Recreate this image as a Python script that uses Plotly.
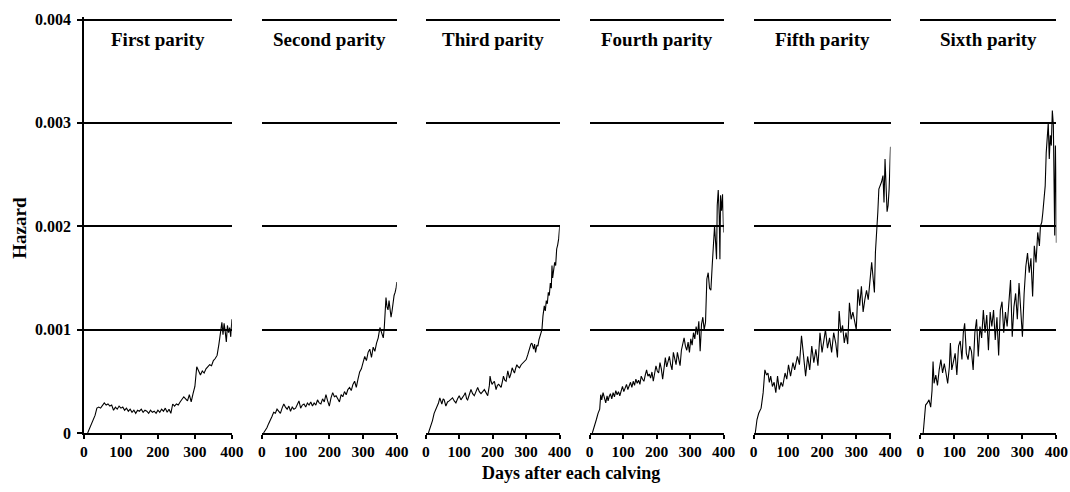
import numpy as np
import plotly.graph_objects as go

# ---------------- data (hazard in units of 0.001) ----------------
panel_titles = ["First parity", "Second parity", "Third parity",
                "Fourth parity", "Fifth parity", "Sixth parity"]
x_tick_vals = [0, 100, 200, 300, 400]
y_tick_vals = [0, 0.001, 0.002, 0.003, 0.004]
y_tick_text = ["0", "0.001", "0.002", "0.003", "0.004"]

days_1 = [
    10, 15, 20, 25, 30, 35, 40, 45, 50, 55,
    60, 65, 70, 75, 80, 85, 90, 95, 100, 105,
    110, 115, 120, 125, 130, 135, 140, 145, 150, 155,
    160, 165, 170, 175, 180, 185, 190, 195, 200, 205,
    210, 215, 220, 225, 230, 235, 240, 245, 250, 255,
    260, 265, 270, 275, 280, 285, 290, 295, 300, 305,
    310, 315, 320, 325, 330, 335, 340, 345, 350, 355,
    360, 365, 370, 373, 376, 379, 382, 385, 388, 391,
    394, 397, 400]
haz_1 = [
    0.00, 0.04, 0.09, 0.13, 0.17, 0.24, 0.25, 0.24, 0.27, 0.29,
    0.27, 0.28, 0.26, 0.27, 0.22, 0.25, 0.23, 0.26, 0.24, 0.25,
    0.22, 0.24, 0.21, 0.23, 0.20, 0.22, 0.19, 0.22, 0.21, 0.23,
    0.20, 0.22, 0.21, 0.19, 0.22, 0.20, 0.21, 0.19, 0.22, 0.20,
    0.23, 0.21, 0.24, 0.20, 0.23, 0.19, 0.28, 0.26, 0.28, 0.27,
    0.30, 0.32, 0.35, 0.33, 0.31, 0.37, 0.30, 0.38, 0.45, 0.64,
    0.60, 0.56, 0.60, 0.58, 0.62, 0.64, 0.66, 0.65, 0.70, 0.72,
    0.75, 0.86, 1.00, 1.07, 0.95, 1.06, 0.98, 0.88, 1.04, 0.97,
    1.02, 0.93, 1.10]

days_2 = [
    5, 10, 15, 20, 25, 30, 35, 40, 45, 50,
    55, 60, 65, 70, 75, 80, 85, 90, 95, 100,
    105, 110, 115, 120, 125, 130, 135, 140, 145, 150,
    155, 160, 165, 170, 175, 180, 185, 190, 195, 200,
    205, 210, 215, 220, 225, 230, 235, 240, 245, 250,
    255, 260, 265, 270, 275, 280, 285, 290, 295, 300,
    305, 310, 315, 320, 325, 330, 335, 340, 345, 350,
    355, 360, 363, 366, 368, 371, 374, 377, 380, 383,
    386, 389, 392, 395, 398, 400]
haz_2 = [
    0.00, 0.02, 0.05, 0.09, 0.12, 0.16, 0.20, 0.19, 0.23, 0.21,
    0.19, 0.24, 0.28, 0.25, 0.23, 0.26, 0.21, 0.25, 0.23, 0.24,
    0.27, 0.31, 0.24, 0.27, 0.28, 0.25, 0.29, 0.27, 0.30, 0.26,
    0.29, 0.27, 0.32, 0.29, 0.28, 0.33, 0.30, 0.37, 0.31, 0.26,
    0.34, 0.39, 0.35, 0.36, 0.33, 0.30, 0.37, 0.35, 0.40, 0.37,
    0.42, 0.44, 0.41, 0.47, 0.50, 0.44, 0.52, 0.59, 0.62, 0.68,
    0.74, 0.70, 0.78, 0.81, 0.73, 0.83, 0.79, 0.87, 0.92, 1.02,
    0.97, 0.92, 1.02, 1.20, 1.31, 1.22, 1.19, 1.28, 1.22, 1.12,
    1.18, 1.29, 1.33, 1.36, 1.40, 1.46]

days_3 = [
    8, 12, 16, 20, 25, 30, 35, 38, 42, 45,
    48, 52, 55, 60, 65, 70, 75, 80, 85, 90,
    95, 100, 105, 110, 115, 118, 122, 125, 130, 135,
    140, 145, 150, 155, 160, 165, 170, 175, 180, 185,
    190, 192, 195, 198, 202, 205, 210, 214, 218, 222,
    225, 229, 232, 236, 240, 245, 250, 254, 258, 262,
    265, 268, 272, 276, 280, 285, 290, 295, 300, 305,
    310, 314, 317, 320, 322, 325, 328, 332, 335, 338,
    340, 344, 347, 350, 354, 357, 360, 363, 366, 369,
    372, 375, 377, 379, 382, 385, 388, 391, 394, 397,
    400]
haz_3 = [
    0.00, 0.04, 0.07, 0.12, 0.19, 0.23, 0.26, 0.29, 0.34, 0.30,
    0.28, 0.33, 0.32, 0.26, 0.30, 0.31, 0.33, 0.34, 0.31, 0.29,
    0.33, 0.36, 0.32, 0.34, 0.37, 0.39, 0.33, 0.32, 0.38, 0.42,
    0.38, 0.36, 0.40, 0.44, 0.40, 0.38, 0.40, 0.42, 0.39, 0.36,
    0.46, 0.55, 0.50, 0.47, 0.49, 0.50, 0.42, 0.46, 0.47, 0.45,
    0.44, 0.50, 0.55, 0.51, 0.50, 0.60, 0.53, 0.57, 0.63, 0.60,
    0.58, 0.62, 0.66, 0.64, 0.63, 0.66, 0.68, 0.70, 0.71, 0.76,
    0.83, 0.86, 0.87, 0.84, 0.81, 0.86, 0.78, 0.85, 0.84, 0.90,
    0.92, 0.98, 1.00, 1.13, 1.23, 1.18, 1.28, 1.25, 1.36, 1.33,
    1.45, 1.40, 1.62, 1.50, 1.58, 1.65, 1.62, 1.78, 1.82, 1.88,
    2.00]

days_4 = [
    8, 14, 20, 25, 30, 33, 36, 40, 44, 48,
    52, 55, 58, 62, 66, 70, 74, 78, 82, 86,
    90, 94, 98, 102, 106, 110, 114, 118, 122, 126,
    130, 134, 138, 142, 146, 150, 154, 158, 162, 166,
    170, 174, 178, 182, 186, 190, 194, 198, 202, 206,
    210, 214, 218, 222, 226, 230, 234, 238, 242, 246,
    250, 254, 258, 262, 266, 270, 274, 278, 282, 286,
    290, 294, 298, 302, 306, 310, 314, 318, 322, 326,
    330, 334, 338, 342, 346, 350, 354, 358, 362, 366,
    370, 373, 376, 379, 381, 384, 387, 389, 391, 394,
    397, 400]
haz_4 = [
    0.00, 0.08, 0.13, 0.19, 0.23, 0.37, 0.32, 0.39, 0.33, 0.29,
    0.36, 0.31, 0.35, 0.38, 0.33, 0.39, 0.35, 0.41, 0.37, 0.40,
    0.36, 0.42, 0.45, 0.40, 0.44, 0.47, 0.42, 0.45, 0.49, 0.44,
    0.50, 0.46, 0.52, 0.48, 0.51, 0.47, 0.55, 0.52, 0.50, 0.56,
    0.61, 0.55, 0.57, 0.53, 0.59, 0.50, 0.56, 0.65, 0.60, 0.58,
    0.68, 0.62, 0.52, 0.66, 0.73, 0.64, 0.70, 0.74, 0.66, 0.61,
    0.78, 0.70, 0.66, 0.78, 0.72, 0.65, 0.80, 0.86, 0.92, 0.84,
    0.80, 0.88, 0.78, 0.91, 0.85, 0.97, 0.91, 1.03, 0.95, 1.08,
    0.79, 1.05, 1.12, 1.00, 1.07, 1.49, 1.55, 1.40, 1.38, 1.62,
    1.80, 2.00, 1.85, 1.68, 2.20, 2.35, 2.10, 1.68, 2.30, 2.15,
    2.31, 1.94]

days_5 = [
    5, 10, 15, 22, 28, 33, 38, 42, 46, 50,
    55, 60, 65, 70, 75, 80, 85, 92, 97, 102,
    108, 115, 120, 128, 134, 140, 145, 152, 158, 164,
    170, 176, 182, 188, 194, 200, 206, 210, 216, 222,
    228, 234, 240, 245, 250, 255, 260, 265, 270, 275,
    280, 285, 290, 295, 300, 305, 310, 315, 320, 325,
    330, 335, 340, 345, 350, 353, 356, 360, 363, 366,
    370, 374, 378, 381, 384, 387, 390, 393, 396, 400]
haz_5 = [
    0.00, 0.13, 0.19, 0.24, 0.39, 0.61, 0.56, 0.58, 0.49, 0.55,
    0.45, 0.49, 0.39, 0.55, 0.42, 0.49, 0.45, 0.58, 0.52, 0.66,
    0.55, 0.68, 0.61, 0.74, 0.66, 0.94, 0.78, 0.55, 0.74, 0.61,
    0.84, 0.68, 0.81, 0.65, 0.97, 0.78, 0.91, 1.00, 0.82, 0.92,
    0.78, 0.97, 0.87, 0.73, 1.18, 0.97, 1.04, 0.87, 0.97, 0.86,
    1.26, 1.10, 1.17, 1.07, 1.00, 1.39, 1.23, 1.42, 1.17, 1.29,
    1.38, 1.29, 1.49, 1.65, 1.47, 1.36, 1.75, 1.94, 2.14, 2.36,
    2.39, 2.43, 2.49, 2.23, 2.65, 2.33, 2.14, 2.20, 2.36, 2.77]

days_6 = [
    8, 12, 15, 20, 25, 30, 34, 37, 40, 45,
    50, 55, 60, 65, 70, 75, 80, 85, 88, 92,
    97, 102, 107, 112, 117, 122, 126, 130, 135, 140,
    145, 150, 155, 160, 165, 170, 175, 180, 185, 190,
    195, 200, 205, 210, 215, 220, 225, 230, 235, 240,
    245, 250, 255, 260, 265, 270, 275, 280, 285, 290,
    295, 300, 305, 310, 315, 320, 325, 330, 335, 340,
    345, 350, 353, 357, 360, 363, 367, 370, 373, 376,
    379, 382, 385, 388, 391, 393, 395, 397, 399, 400]
haz_6 = [
    0.00, 0.19, 0.27, 0.29, 0.32, 0.25, 0.41, 0.69, 0.48, 0.56,
    0.46, 0.61, 0.71, 0.58, 0.67, 0.58, 0.48, 0.64, 0.87, 0.61,
    0.71, 0.77, 0.56, 0.84, 0.89, 0.71, 0.97, 1.06, 0.77, 0.71,
    0.84, 0.79, 0.61, 0.97, 1.10, 0.74, 1.03, 0.92, 1.19, 0.97,
    1.14, 0.80, 1.17, 1.03, 1.19, 0.90, 1.12, 0.75, 1.19, 1.27,
    0.97, 1.17, 1.03, 1.29, 1.48, 0.93, 1.22, 1.35, 1.10, 1.45,
    1.16, 0.93, 1.35, 1.61, 1.74, 1.55, 1.69, 1.32, 1.81, 1.65,
    1.94, 1.81, 2.00, 2.04, 2.13, 2.29, 2.39, 2.71, 2.84, 3.00,
    2.65, 2.88, 2.78, 3.12, 2.98, 2.36, 1.91, 2.78, 2.52, 1.84]

all_days = [days_1, days_2, days_3, days_4, days_5, days_6]
all_haz = [haz_1, haz_2, haz_3, haz_4, haz_5, haz_6]

# ---------------- layout ----------------
W, H = 1070, 492
FONT = "Liberation Serif, Times New Roman, serif"
# the returned picture is a slightly shrunken, offset copy of the page;
# these constants map a target pixel in the picture back to a figure pixel
KX, CX = 0.9856, 4.0
KY, CY = 0.9685, 6.5


def px_x(t):
    return (t - CX) / KX


def px_y(t):
    return (t - CY) / KY


def fx(t):
    return px_x(t) / W


def fy(t):
    return 1 - px_y(t) / H


panel_px = [(84, 232), (262, 397), (426, 560), (590, 724), (754, 891), (921, 1057)]
y0_t, y4_t = 433, 20            # target rows of 0 and 0.004
y0_px, y4_px = px_y(y0_t), px_y(y4_t)
y_max = 0.00402                 # slight headroom so the 0.004 grid line is drawn
y_top_px = y0_px - y_max * (y0_px - y4_px) / 0.004
ydom = [1 - y0_px / H, 1 - y_top_px / H]

fig = go.Figure()
layout = dict(
    width=W, height=H, autosize=False,
    margin=dict(l=0, r=0, t=0, b=0, pad=0),
    paper_bgcolor="white", plot_bgcolor="white",
    showlegend=False,
    font=dict(family=FONT, color="black"),
)
annotations = []

for i in range(6):
    n = i + 1
    xs = "" if n == 1 else str(n)
    fig.add_trace(go.Scatter(
        x=all_days[i], y=np.array(all_haz[i]) * 1e-3,
        mode="lines", line=dict(color="black", width=1.1),
        xaxis="x" + xs, yaxis="y" + xs, hoverinfo="skip",
    ))
    x0, x1 = panel_px[i]
    layout["xaxis" + xs] = dict(
        domain=[fx(x0), fx(x1)], anchor="y" + xs, range=[0, 400],
        tickmode="array", tickvals=x_tick_vals,
        ticks="outside", ticklen=4, tickwidth=1.6, tickcolor="black",
        showline=True, linecolor="black", linewidth=1.7,
        showgrid=False, zeroline=False,
        tickfont=dict(family=FONT, size=15.5, color="black", weight="bold"),
    )
    yax = dict(
        domain=ydom, anchor="x" + xs, range=[0, y_max],
        tickmode="array", tickvals=y_tick_vals, ticktext=y_tick_text,
        showgrid=True, gridcolor="black", gridwidth=1.7,
        zeroline=False,
    )
    if n == 1:
        yax.update(showline=True, linecolor="black", linewidth=1.7,
                   ticks="outside", ticklen=5, tickwidth=1.7, tickcolor="black",
                   showticklabels=True, ticklabelstandoff=3,
                   tickfont=dict(family=FONT, size=16, color="black", weight="bold"))
    else:
        yax.update(showline=False, ticks="", showticklabels=False)
    layout["yaxis" + xs] = yax

    annotations.append(dict(
        text=panel_titles[i], x=fx((x0 + x1) / 2), y=fy(40),
        xref="paper", yref="paper", xanchor="center", yanchor="middle",
        showarrow=False,
        font=dict(family=FONT, size=19, color="black", weight="bold"),
    ))

annotations.append(dict(
    text="Hazard", x=fx(20), y=fy(228), xref="paper", yref="paper",
    xanchor="center", yanchor="middle", textangle=-90, showarrow=False,
    font=dict(family=FONT, size=19, color="black", weight="bold"),
))
annotations.append(dict(
    text="Days after each calving", x=fx(571), y=1 - 481.5 / H,
    xref="paper", yref="paper", xanchor="center", yanchor="middle",
    showarrow=False,
    font=dict(family=FONT, size=18, color="black", weight="bold"),
))
layout["annotations"] = annotations
fig.update_layout(**layout)

fig.write_html("out.html", config={"responsive": False, "displayModeBar": False})
